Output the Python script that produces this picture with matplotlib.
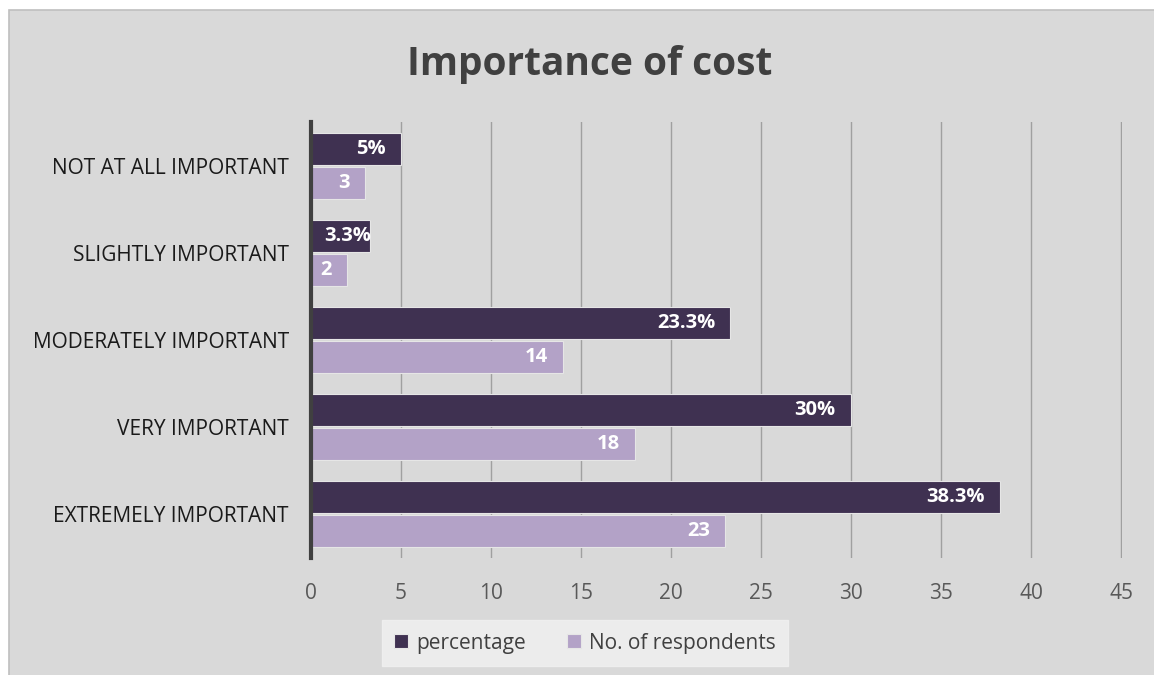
import matplotlib.pyplot as plt
import matplotlib
from matplotlib.patches import Rectangle
import numpy as np

matplotlib.rcParams['font.family'] = ['Open Sans', 'DejaVu Sans']

# survey data
categories = ['NOT AT ALL IMPORTANT', 'SLIGHTLY IMPORTANT', 'MODERATELY IMPORTANT',
              'VERY IMPORTANT', 'EXTREMELY IMPORTANT']
percentage = [5, 3.3, 23.3, 30, 38.3]
respondents = [3, 2, 14, 18, 23]
pct_labels = ['5%', '3.3%', '23.3%', '30%', '38.3%']

dark = '#3f3151'
light = '#b3a2c7'
bg = '#d9d9d9'

fig = plt.figure(figsize=(11.54, 6.75), dpi=100, facecolor='white')
fig.patches.append(Rectangle((9 / 1154, -0.01), 1.01, 1 - 10 / 675 + 0.01,
                             transform=fig.transFigure, facecolor=bg,
                             edgecolor='#bfbfbf', linewidth=1.2, zorder=-10))

ax = fig.add_axes([311 / 1154, 1 - 558 / 675, (1122 - 311) / 1154, (558 - 122) / 675])
ax.set_facecolor(bg)

y = np.arange(len(categories))
h = 0.366
off = 0.195
b1 = ax.barh(y - off, percentage, height=h, color=dark, edgecolor='#e6e6e6',
             linewidth=0.8, label='percentage', zorder=3)
b2 = ax.barh(y + off, respondents, height=h, color=light, edgecolor='#e6e6e6',
             linewidth=0.8, label='No. of respondents', zorder=3)


def put_label(bar, txt):
    w = bar.get_width()
    yc = bar.get_y() + bar.get_height() / 2
    if len(txt) * 0.8 + 0.6 > w:
        # label wider than the bar: start it just right of the axis
        ax.text(0.75, yc, txt, ha='left', va='center', color='white',
                fontsize=14.5, fontweight='bold', zorder=6)
    else:
        ax.text(w - 0.85, yc, txt, ha='right', va='center', color='white',
                fontsize=14.5, fontweight='bold', zorder=6)


for bar, txt in zip(b1, pct_labels):
    put_label(bar, txt)
for bar, val in zip(b2, respondents):
    put_label(bar, str(val))

ax.set_xlim(0, 45.05)
ax.set_ylim(4.5, -0.5)
ax.set_xticks(range(0, 50, 5))
ax.set_yticks(y)
ax.set_yticklabels(categories, fontsize=15, color='#1a1a1a')
ax.tick_params(axis='x', labelsize=15, colors='#595959', length=0, pad=18)
ax.tick_params(axis='y', length=0, pad=16)
ax.grid(axis='x', color='#a0a0a0', linewidth=1, zorder=0)
for s in ['top', 'right', 'bottom']:
    ax.spines[s].set_visible(False)
ax.spines['left'].set_color('#404040')
ax.spines['left'].set_linewidth(3)
ax.spines['left'].set_zorder(5)

fig.text(590 / 1154, 1 - 64 / 675, 'Importance of cost', ha='center', va='center',
         fontsize=28, fontweight='bold', color='#404040')

leg = fig.legend(handles=[b1, b2], loc='center', bbox_to_anchor=(585 / 1154, 1 - 643 / 675),
                 ncol=2, fontsize=15, frameon=True, fancybox=False, handlelength=0.65,
                 handleheight=0.65, handletextpad=0.4, columnspacing=2.0,
                 borderpad=0.6, labelcolor='#404040')
leg.get_frame().set_facecolor('#f2f2f2')
leg.get_frame().set_edgecolor('#f2f2f2')

fig.savefig('out.png', dpi=100, facecolor=fig.get_facecolor())
